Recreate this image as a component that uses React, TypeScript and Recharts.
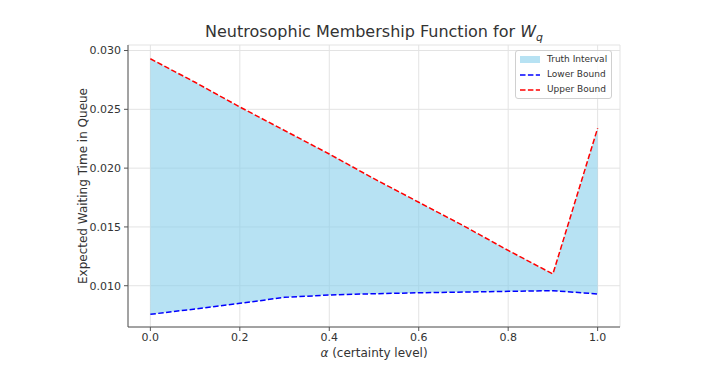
import { ComposedChart, Area, Line, XAxis, YAxis, CartesianGrid, Label } from 'recharts';

const alphaLevels = [0.0, 0.1, 0.2, 0.3, 0.4, 0.5, 0.6, 0.7, 0.8, 0.9, 1.0];
const lowerBound = [0.00757, 0.00802, 0.0085, 0.00901, 0.00921, 0.00932, 0.0094, 0.00946, 0.00952, 0.00958, 0.0093];
const upperBound = [0.0293, 0.0273, 0.0252, 0.0232, 0.0212, 0.0191, 0.0171, 0.0151, 0.0130, 0.0110, 0.0234];
const xTicks = [0.0, 0.2, 0.4, 0.6, 0.8, 1.0];
const yTicks = [0.010, 0.015, 0.020, 0.025, 0.030];

const data = alphaLevels.map((a, i) => ({
    alpha: a,
    lower: lowerBound[i],
    upper: upperBound[i],
    band: [lowerBound[i], upperBound[i]],
}));

const FONT = '"DejaVu Sans", sans-serif';
const TEXT = '#333333';
const SPINE = '#555555';
const FILL = '#87ceeb';

// legend drawn by hand, recharts' Legend reserves space under the plot
function LegendBox() {
    const row = { display: 'flex', alignItems: 'center', height: 15 };
    const label = { marginLeft: 7 };
    return (
        <div
            style={{
                position: 'absolute',
                left: 507,
                top: 42,
                border: '1px solid #d0d0d0',
                borderRadius: 3,
                background: 'rgba(255,255,255,0.8)',
                padding: '1px 4px',
                fontFamily: FONT,
                fontSize: 9,
                color: TEXT,
                lineHeight: '15px',
            }}
        >
            <div style={row}>
                <svg width={20} height={8}><rect x={0} y={0} width={20} height={7} fill={FILL} fillOpacity={0.6} /></svg>
                <span style={label}>Truth Interval</span>
            </div>
            <div style={row}>
                <svg width={20} height={8}><line x1={0} y1={4} x2={20} y2={4} stroke="#0000ff" strokeWidth={1.5} strokeDasharray="5.5 2.4" /></svg>
                <span style={label}>Lower Bound</span>
            </div>
            <div style={row}>
                <svg width={20} height={8}><line x1={0} y1={4} x2={20} y2={4} stroke="#ff0000" strokeWidth={1.5} strokeDasharray="5.5 2.4" /></svg>
                <span style={label}>Upper Bound</span>
            </div>
        </div>
    );
}

export default function App() {
    return (
        <div style={{ position: 'relative', width: 702, height: 362, background: '#fff' }}>
            <ComposedChart width={702} height={362} data={data} margin={{ top: 37, right: 90, left: 60, bottom: 13 }}>
                <CartesianGrid stroke="#e3e3e3" strokeWidth={1} />
                <XAxis
                    type="number"
                    dataKey="alpha"
                    domain={[-0.05, 1.05]}
                    ticks={xTicks}
                    tickFormatter={(v: number) => v.toFixed(1)}
                    tick={{ fontSize: 11, fill: TEXT, fontFamily: FONT }}
                    stroke={SPINE}
                    tickSize={4}
                    tickMargin={2}
                    height={30}
                >
                    <Label
                        content={() => (
                            <text x={366} y={349} textAnchor="middle" fontFamily={FONT} fontSize={12} fill={TEXT}>
                                <tspan fontStyle="italic">α</tspan> (certainty level)
                            </text>
                        )}
                    />
                </XAxis>
                <YAxis
                    type="number"
                    domain={[0.00649, 0.03047]}
                    ticks={yTicks}
                    tickFormatter={(v: number) => v.toFixed(3)}
                    tick={{ fontSize: 11, fill: TEXT, fontFamily: FONT }}
                    stroke={SPINE}
                    tickSize={4}
                    tickMargin={3}
                    width={60}
                    allowDataOverflow
                >
                    <Label
                        content={() => (
                            <text
                                x={79}
                                y={178}
                                textAnchor="middle"
                                fontFamily={FONT}
                                fontSize={12}
                                fill={TEXT}
                                transform="rotate(-90 79 178)"
                            >
                                Expected Waiting Time in Queue
                            </text>
                        )}
                    />
                </YAxis>
                <Area
                    type="linear"
                    dataKey="band"
                    stroke="none"
                    fill={FILL}
                    fillOpacity={0.6}
                    isAnimationActive={false}
                    name="Truth Interval"
                />
                <Line
                    type="linear"
                    dataKey="lower"
                    stroke="#0000ff"
                    strokeWidth={1.5}
                    strokeDasharray="5.5 2.4"
                    dot={false}
                    isAnimationActive={false}
                    name="Lower Bound"
                />
                <Line
                    type="linear"
                    dataKey="upper"
                    stroke="#ff0000"
                    strokeWidth={1.5}
                    strokeDasharray="5.5 2.4"
                    dot={false}
                    isAnimationActive={false}
                    name="Upper Bound"
                />
            </ComposedChart>
            <div
                style={{
                    position: 'absolute',
                    left: 0,
                    width: 732,
                    top: 14,
                    textAlign: 'center',
                    fontFamily: FONT,
                    fontSize: 16,
                    color: TEXT,
                    pointerEvents: 'none',
                }}
            >
                Neutrosophic Membership Function for <i>W</i><sub style={{ fontStyle: 'italic', fontSize: 11, lineHeight: 0 }}>q</sub>
            </div>
            <LegendBox />
        </div>
    );
}
